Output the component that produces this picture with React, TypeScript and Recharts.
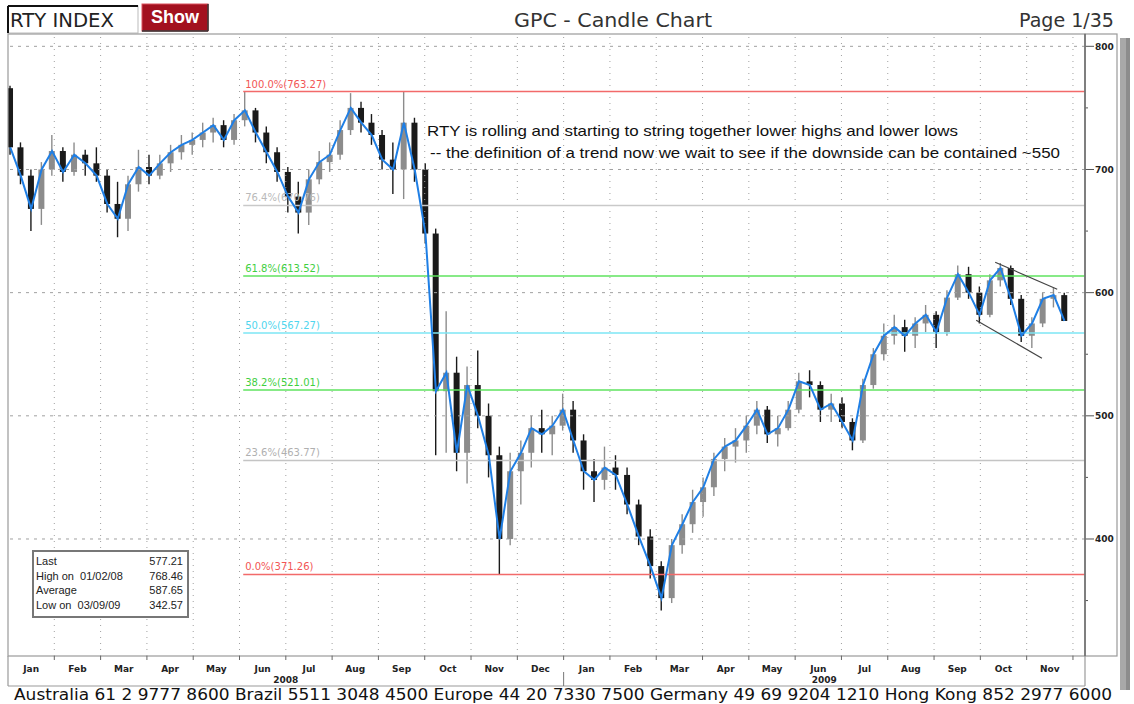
import React from 'react';
import { ComposedChart, Bar, Line, XAxis, YAxis, ReferenceLine } from 'recharts';

// Weekly candles (Wednesday of each week)
const weekDates = [
  '2008-01-02','2008-01-09','2008-01-16','2008-01-23','2008-01-30','2008-02-06','2008-02-13','2008-02-20','2008-02-27',
  '2008-03-05','2008-03-12','2008-03-19','2008-03-26','2008-04-02','2008-04-09','2008-04-16','2008-04-23','2008-04-30',
  '2008-05-07','2008-05-14','2008-05-21','2008-05-28','2008-06-04','2008-06-11','2008-06-18','2008-06-25',
  '2008-07-02','2008-07-09','2008-07-16','2008-07-23','2008-07-30','2008-08-06','2008-08-13','2008-08-20','2008-08-27',
  '2008-09-03','2008-09-10','2008-09-17','2008-09-24','2008-10-01','2008-10-08','2008-10-15','2008-10-22','2008-10-29',
  '2008-11-05','2008-11-12','2008-11-19','2008-11-26','2008-12-03','2008-12-10','2008-12-17','2008-12-24','2008-12-31',
  '2009-01-07','2009-01-14','2009-01-21','2009-01-28','2009-02-04','2009-02-11','2009-02-18','2009-02-25',
  '2009-03-04','2009-03-11','2009-03-18','2009-03-25','2009-04-01','2009-04-08','2009-04-15','2009-04-22','2009-04-29',
  '2009-05-06','2009-05-13','2009-05-20','2009-05-27','2009-06-03','2009-06-10','2009-06-17','2009-06-24',
  '2009-07-01','2009-07-08','2009-07-15','2009-07-22','2009-07-29','2009-08-05','2009-08-12','2009-08-19','2009-08-26',
  '2009-09-02','2009-09-09','2009-09-16','2009-09-23','2009-09-30','2009-10-07','2009-10-14','2009-10-21','2009-10-28',
  '2009-11-04','2009-11-11','2009-11-18','2009-11-25',
];
const openVals = [
  766,718,695,668,700,715,698,712,705, 695,672,660,688,702,695,705,714,720, 724,730,736,724,740,748,730,714,
  698,678,665,692,706,712,732,750,738, 728,708,700,738,700,648,520,535,470, 525,500,468,400,455,470,490,485,492,
  505,480,455,448,458,452,428,402, 378,352,395,412,430,442,465,475,480, 492,505,485,490,505,528,525,505,
  510,495,480,525,550,565,572,565,575, 582,568,596,615,600,582,610,620,595, 565,575,595,598,
];
const highVals = [
  768,722,700,706,728,718,722,716,718, 700,690,695,716,712,712,720,728,730, 738,742,740,745,763,750,735,718,
  702,690,700,715,722,740,762,755,745, 732,722,763,742,705,652,585,548,540, 553,510,475,470,480,500,505,500,518,
  512,485,465,475,468,458,432,408, 382,400,420,440,450,470,482,490,500, 512,508,500,512,535,537,528,518,
  515,498,530,555,575,582,578,580,590, 585,602,622,621,605,615,624,622,598, 580,600,604,600,
];
const lowVals = [
  712,688,650,655,695,690,695,695,690, 665,645,650,682,688,692,698,708,712, 718,722,718,720,735,722,705,690,
  665,648,655,688,698,708,728,730,720, 700,680,676,690,640,468,470,455,445, 490,450,371,395,428,458,470,468,488,
  470,440,430,440,440,420,395,368, 342,348,388,405,418,435,455,462,470, 485,478,475,488,502,515,495,495,
  490,472,478,522,545,558,552,555,568, 555,565,594,595,575,580,605,590,560, 555,572,588,577,
];
const closeVals = [
  718,695,668,700,715,698,712,705,695, 672,660,688,702,695,705,714,720,724, 730,736,724,740,748,730,714,698,
  678,665,692,706,712,732,750,738,728, 708,700,738,700,648,520,535,470,525, 500,468,400,455,470,490,485,492,505,
  480,455,448,458,452,428,402,378, 352,395,412,430,442,465,475,480,492, 505,485,490,505,528,525,505,510,
  495,480,525,550,565,572,565,575,582, 568,596,615,600,582,610,620,595,565, 575,595,598,577,
];

const monthLabels = ['Jan','Feb','Mar','Apr','May','Jun','Jul','Aug','Sep','Oct','Nov','Dec',
  'Jan','Feb','Mar','Apr','May','Jun','Jul','Aug','Sep','Oct','Nov'];
const yearLabels = ['2008', '2009'];
const majorTicks = [400, 500, 600, 700, 800];
const allYTicks = [350, 400, 450, 500, 550, 600, 650, 700, 750, 800];

const fibLevels = [763.27, 670.76, 613.52, 567.27, 521.01, 463.77, 371.26];
const fibNames = ['100.0%', '76.4%', '61.8%', '50.0%', '38.2%', '23.6%', '0.0%'];
const fibColors = ['#f26a6a', '#c9c9c9', '#5fe35f', '#7de6f5', '#5fe35f', '#c4c4c4', '#f26a6a'];
const fibTextColors = ['#f25555', '#b9b9b9', '#3fcf3f', '#4fd6ee', '#3fcf3f', '#b0b0b0', '#f25555'];
const fibStart = 5.08;

const channelUpper = [{ x: 21.32, y: 624.7 }, { x: 22.66, y: 602.8 }];
const channelLower = [{ x: 20.91, y: 577.6 }, { x: 22.33, y: 546.8 }];

const statLabels = ['Last', 'High on  01/02/08', 'Average', 'Low on  03/09/09'];
const statValues = ['577.21', '768.46', '587.65', '342.57'];

const X_MAX = 23.26;

function toMonths(s: string) {
  const [y, m, d] = s.split('-').map(Number);
  const dim = new Date(y, m, 0).getDate();
  return (y - 2008) * 12 + (m - 1) + (d - 0.5) / dim;
}

const data = weekDates.map((d, i) => ({
  t: toMonths(d),
  o: openVals[i], h: highVals[i], l: lowVals[i], c: closeVals[i],
  range: [lowVals[i], highVals[i]],
}));

const Candle = (props: any) => {
  const { x, y, width, height, payload } = props;
  if (!payload || height == null) return null;
  const { o, h, l, c } = payload;
  const k = height / Math.max(h - l, 0.0001);
  const top = y + (h - Math.max(o, c)) * k;
  const bot = y + (h - Math.min(o, c)) * k;
  const cx = x + width / 2;
  const up = c >= o;
  const col = up ? '#8c8c8c' : '#1a1a1a';
  return (
    <g>
      <line x1={cx} x2={cx} y1={y} y2={y + height} stroke={col} strokeWidth={1.4} />
      <rect x={x} y={top} width={width} height={Math.max(bot - top, 1.2)} fill={col} />
    </g>
  );
};

const YTick = (props: any) => {
  const { x, y, payload } = props;
  const v = payload.value;
  const major = majorTicks.includes(v);
  return (
    <g>
      <line x1={x} x2={x + (major ? 9 : 3)} y1={y} y2={y} stroke="#555" strokeWidth={1} />
      {major && (
        <text x={x + 10} y={y + 3.5} fontSize={9} fontWeight="bold" fontFamily="DejaVu Sans" fill="#222">{v}</text>
      )}
    </g>
  );
};

const XTick = (props: any) => {
  const { x, y, payload, index } = props;
  return (
    <text x={x} y={y + 14} fontSize={9} fontWeight="bold" fontFamily="DejaVu Sans" fill="#222" textAnchor="middle">
      {monthLabels[index] ?? ''}
    </text>
  );
};

const monthCenters = monthLabels.map((_, i) => i + 0.5);
const monthBounds = Array.from({ length: 23 }, (_, i) => i + 1);

export default function App() {
  const pxPerMonth = (1085 - 8) / X_MAX;
  return (
    <div style={{ position: 'absolute', left: 0, top: 0, width: 1134, height: 704, background: '#fff', overflow: 'hidden' }}>
      <div style={{ position: 'absolute', left: 0, top: 0 }}>
        <ComposedChart width={1134} height={704} data={data}
          margin={{ top: 34, right: 17, bottom: 18, left: 8 }}>
          <XAxis dataKey="t" type="number" domain={[0, X_MAX]} ticks={monthCenters} interval={0}
            axisLine={false} tickLine={false} tickSize={0} tick={<XTick />} height={30} allowDataOverflow />
          <YAxis orientation="right" type="number" domain={[305, 810]} ticks={allYTicks} interval={0}
            axisLine={false} tickLine={false} tickSize={0} tickMargin={0} tick={<YTick />} width={32} allowDataOverflow />
          {monthBounds.map((m) => (
            <ReferenceLine key={'mb' + m} x={m} stroke="#a0a0a0" strokeDasharray="1 5" strokeWidth={1} />
          ))}
          {majorTicks.map((v) => (
            <ReferenceLine key={'hg' + v} y={v} stroke="#a0a0a0" strokeDasharray="3 5" strokeWidth={1} />
          ))}
          {fibLevels.map((v, i) => (
            <ReferenceLine key={'fib' + i}
              segment={[{ x: fibStart, y: v }, { x: X_MAX, y: v }]}
              stroke={fibColors[i]} strokeWidth={1.5}
              label={(p: any) => (
                <text x={(p.viewBox?.x ?? 0) + 2} y={(p.viewBox?.y ?? 0) - 4} fontSize={10}
                  fontFamily="DejaVu Sans" fill={fibTextColors[i]}>
                  {fibNames[i]}({v.toFixed(2)})
                </text>
              )} />
          ))}
          <Bar dataKey="range" shape={<Candle />} barSize={6} isAnimationActive={false} />
          <Line dataKey="c" type="linear" stroke="#1f7fe5" strokeWidth={2} dot={false} isAnimationActive={false} />
          <ReferenceLine segment={channelUpper} stroke="#444" strokeWidth={1.2} />
          <ReferenceLine segment={channelLower} stroke="#444" strokeWidth={1.2} />
        </ComposedChart>
      </div>
      <svg width={1134} height={704} style={{ position: 'absolute', left: 0, top: 0, pointerEvents: 'none' }}>
        {/* header */}
        <rect x={8} y={6} width={130} height={27} fill="#fff" stroke="#bbb" />
        <line x1={8} y1={6} x2={138} y2={6} stroke="#111" strokeWidth={2} />
        <line x1={8} y1={6} x2={8} y2={33} stroke="#111" strokeWidth={2} />
        <text x={10} y={27} fontSize={20} fontFamily="DejaVu Sans" fill="#222" textLength={104} lengthAdjust="spacingAndGlyphs">RTY INDEX</text>
        <rect x={142} y={4} width={66} height={27} fill="#a3111f" stroke="#d9505c" strokeWidth={1} />
        <line x1={142} y1={31} x2={208} y2={31} stroke="#333" strokeWidth={1.5} />
        <line x1={208} y1={4} x2={208} y2={31} stroke="#333" strokeWidth={1.5} />
        <text x={175} y={23} fontSize={18} fontWeight="bold" fontFamily="Liberation Sans" fill="#fff" textAnchor="middle">Show</text>
        <text x={613} y={27} fontSize={20} fontFamily="DejaVu Sans" fill="#333" textAnchor="middle" textLength={198} lengthAdjust="spacingAndGlyphs">GPC - Candle Chart</text>
        <text x={1019} y={27} fontSize={20} fontFamily="DejaVu Sans" fill="#333" textLength={95} lengthAdjust="spacingAndGlyphs">Page 1/35</text>

        {/* frames */}
        <rect x={8} y={34} width={1077} height={622} fill="none" stroke="#9a9a9a" strokeWidth={1.2} />
        <rect x={1085} y={34} width={32} height={622} fill="none" stroke="#9a9a9a" strokeWidth={1.2} />
        <line x1={1085} y1={34} x2={1085} y2={656} stroke="#555" strokeWidth={1} />
        <rect x={1120} y={38} width={10} height={652} fill="#a8a8a8" />
        <rect x={1126} y={38} width={4} height={652} fill="#8c8c8c" />
        <line x1={8} y1={656} x2={8} y2={686} stroke="#9a9a9a" strokeWidth={1.2} />
        <line x1={8} y1={686} x2={1085} y2={686} stroke="#9a9a9a" strokeWidth={1.2} />
        <line x1={1085} y1={656} x2={1085} y2={686} stroke="#9a9a9a" strokeWidth={1.2} />
        {monthBounds.map((m) => (
          <line key={'xt' + m} x1={8 + m * pxPerMonth} x2={8 + m * pxPerMonth} y1={656} y2={660} stroke="#666" />
        ))}
        <line x1={8 + 12 * pxPerMonth} x2={8 + 12 * pxPerMonth} y1={672} y2={686} stroke="#777" />
        <text x={8 + 6 * pxPerMonth} y={683} fontSize={9} fontWeight="bold" fontFamily="DejaVu Sans" fill="#222" textAnchor="middle">{yearLabels[0]}</text>
        <text x={(8 + 12 * pxPerMonth + 1085) / 2} y={683} fontSize={9} fontWeight="bold" fontFamily="DejaVu Sans" fill="#222" textAnchor="middle">{yearLabels[1]}</text>

        {/* annotation */}
        <text x={427} y={136} fontSize={15} fontFamily="Liberation Sans" fill="#111" textLength={531} lengthAdjust="spacingAndGlyphs">RTY is rolling and starting to string together lower highs and lower lows</text>
        <text x={430} y={158} fontSize={15} fontFamily="Liberation Sans" fill="#111" textLength={630} lengthAdjust="spacingAndGlyphs">-- the definition of a trend now we wait to see if the downside can be contained ~550</text>

        {/* stats box */}
        <rect x={33} y={551} width={155} height={66} fill="#fff" stroke="#777" strokeWidth={2} />
        {statLabels.map((s, i) => (
          <g key={'st' + i}>
            <text x={36} y={565 + i * 14.5} fontSize={11} fontFamily="Liberation Sans" fill="#222" style={{ whiteSpace: 'pre' }}>{s}</text>
            <text x={183} y={565 + i * 14.5} fontSize={11} fontFamily="Liberation Sans" fill="#222" textAnchor="end">{statValues[i]}</text>
          </g>
        ))}

        {/* footer */}
        <text x={14} y={700} fontSize={15} fontFamily="DejaVu Sans" fill="#111" textLength={1098} lengthAdjust="spacingAndGlyphs">Australia 61 2 9777 8600 Brazil 5511 3048 4500 Europe 44 20 7330 7500 Germany 49 69 9204 1210 Hong Kong 852 2977 6000</text>
      </svg>
    </div>
  );
}
